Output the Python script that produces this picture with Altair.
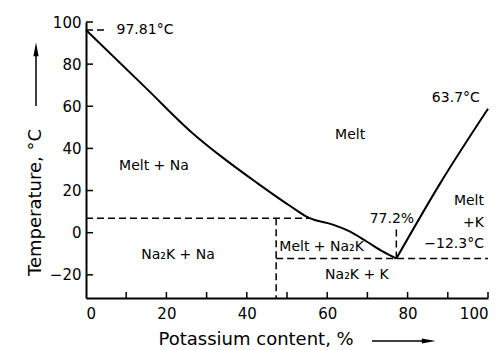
import altair as alt
import pandas as pd

FONT = "DejaVu Sans"

# Liquidus curves
na_x = [0, 15, 26.3, 34.1, 42.5, 50.7, 55.5, 61.4, 65.7, 69.9, 73.9, 77.2]
na_y = [96.2, 68.5, 47.6, 35.5, 23.7, 12.8, 7.0, 3.8, 0.5, -4.3, -9.0, -12.3]
k_x = [77.2, 88.1, 100]
k_y = [-12.3, 23.4, 58.8]

# Dashed construction lines
seg_x1 = [0, 47.3, 47.3, 77.2, 0]
seg_x2 = [55.5, 47.3, 100, 77.2, 4.7]
seg_y1 = [6.9, 6.9, -12.3, -12.3, 96.2]
seg_y2 = [6.9, -31, -12.3, 1.5, 96.2]

# Tick values
x_ticks = [10, 20, 30, 40, 50, 60, 70, 80, 90, 100]
y_ticks = [-20, 0, 20, 40, 60, 80, 100]
x_labels = [0, 20, 40, 60, 80, 100]

# Annotations
ann_text = ["97.81°C", "Melt + Na", "Melt", "63.7°C", "Melt", "+K", "−12.3°C",
            "77.2%", "Melt + Na₂K", "Na₂K + K", "Na₂K + Na"]
ann_x = [7.6, 16.9, 65.7, 92.0, 99.0, 99.0, 99.0, 76.1, 58.6, 67.4, 22.9]
ann_y = [96.2, 31.7, 46.4, 63.7, 15.0, 4.8, -5.4, 6.5, -6.8, -20.0, -10.5]
ann_align = ["left", "center", "center", "center", "right", "right", "right",
             "center", "center", "center", "center"]

na_df = pd.DataFrame({"x": na_x, "y": na_y})
k_df = pd.DataFrame({"x": k_x, "y": k_y})
segs = pd.DataFrame({"x1": seg_x1, "x2": seg_x2, "y1": seg_y1, "y2": seg_y2})
ann = pd.DataFrame({"text": ann_text, "x": ann_x, "y": ann_y, "align": ann_align})
xt = pd.DataFrame({"v": x_ticks})
yt = pd.DataFrame({"v": y_ticks})
one = pd.DataFrame({"a": [0]})

xs = alt.Scale(domain=[0, 100], nice=False, zero=False)
ys = alt.Scale(domain=[-31, 100], nice=False, zero=False)

x_axis = alt.Axis(values=x_labels, ticks=False, grid=False, domainColor="black",
                  domainWidth=2, labelFont=FONT, labelFontSize=15, labelColor="black",
                  labelPadding=8, title="Potassium content, %", titleFont=FONT,
                  titleFontSize=18, titleFontWeight="normal", titleColor="black",
                  titleX=72, titleY=46, titleAlign="left", titleBaseline="alphabetic")
y_axis = alt.Axis(values=y_ticks, ticks=False, grid=False, domainColor="black",
                  domainWidth=2, labelFont=FONT, labelFontSize=15, labelColor="black",
                  labelPadding=5, title="Temperature, °C", titleFont=FONT,
                  titleFontSize=18, titleFontWeight="normal", titleColor="black",
                  titleAngle=270, titleX=-46, titleY=180, titleAlign="center",
                  titleBaseline="alphabetic")

na_line = alt.Chart(na_df).mark_line(color="black", strokeWidth=2, interpolate="monotone").encode(
    x=alt.X("x:Q", scale=xs, axis=x_axis),
    y=alt.Y("y:Q", scale=ys, axis=y_axis),
    order="x:Q",
)
k_line = alt.Chart(k_df).mark_line(color="black", strokeWidth=2, interpolate="monotone").encode(
    x=alt.X("x:Q", scale=xs),
    y=alt.Y("y:Q", scale=ys),
    order="x:Q",
)

dashed = alt.Chart(segs).mark_rule(color="black", strokeWidth=1.5, strokeDash=[7, 4]).encode(
    x=alt.X("x1:Q", scale=xs), x2="x2:Q",
    y=alt.Y("y1:Q", scale=ys), y2="y2:Q",
)

xtick = alt.Chart(xt).mark_rule(color="black", strokeWidth=1.5).encode(
    x=alt.X("v:Q", scale=xs), y=alt.value(276), y2=alt.value(270))
ytick = alt.Chart(yt).mark_rule(color="black", strokeWidth=1.5).encode(
    y=alt.Y("v:Q", scale=ys), x=alt.value(0), x2=alt.value(7))

texts = []
for a in ["left", "center", "right"]:
    texts.append(
        alt.Chart(ann).transform_filter(alt.datum.align == a).mark_text(
            font=FONT, fontSize=14, color="black", align=a, baseline="middle"
        ).encode(x=alt.X("x:Q", scale=xs), y=alt.Y("y:Q", scale=ys), text="text:N")
    )

# axis-title arrows
y_arrow_line = alt.Chart(one).mark_rule(color="black", strokeWidth=1.5).encode(
    x=alt.value(-50), y=alt.value(84), y2=alt.value(30))
y_arrow_head = alt.Chart(one).mark_point(
    shape="M0,-1L0.3,0.6L-0.3,0.6Z", filled=True, size=300, color="black", opacity=1
).encode(x=alt.value(-50), y=alt.value(29))
x_arrow_line = alt.Chart(one).mark_rule(color="black", strokeWidth=1.5).encode(
    x=alt.value(286), x2=alt.value(340), y=alt.value(319))
x_arrow_head = alt.Chart(one).mark_point(
    shape="M1,0L-0.6,0.3L-0.6,-0.3Z", filled=True, size=300, color="black", opacity=1
).encode(x=alt.value(341), y=alt.value(319))

chart = alt.layer(
    na_line, k_line, dashed, xtick, ytick, *texts,
    y_arrow_line, y_arrow_head, x_arrow_line, x_arrow_head,
).properties(
    width=402, height=276,
    autosize=alt.AutoSizeParams(type="none"),
    padding={"left": 78, "top": 14, "right": 7, "bottom": 52},
).configure_view(stroke=None)

chart.save("out.html", embed_options={"renderer": "svg", "actions": False})
